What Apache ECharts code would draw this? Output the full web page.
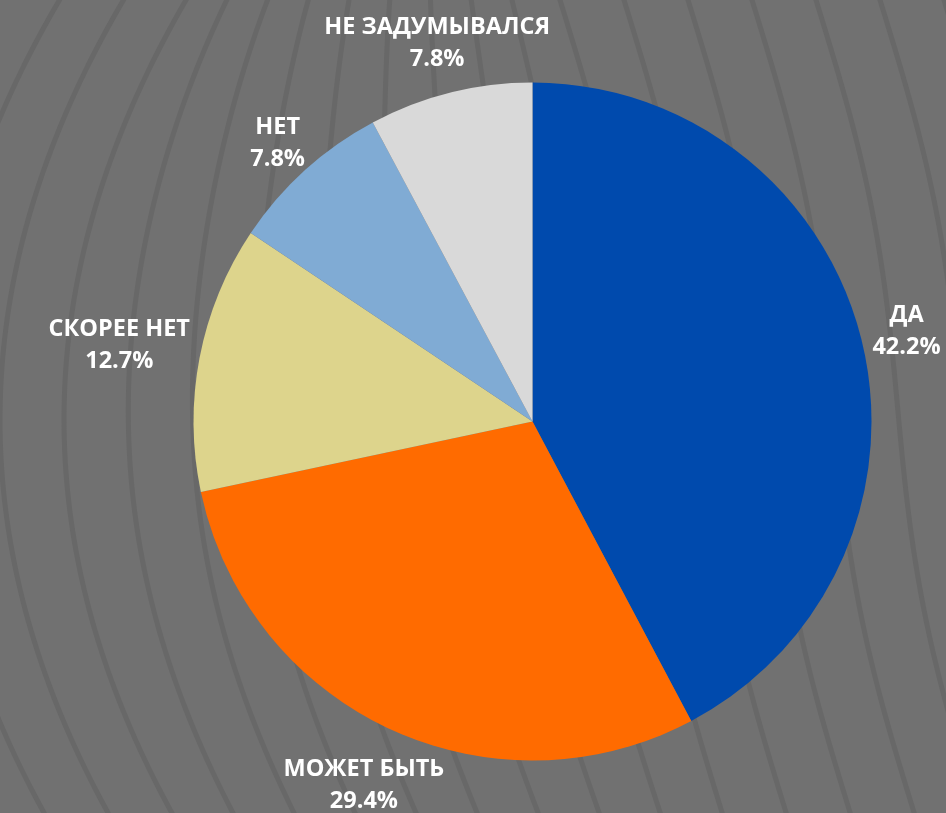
<!DOCTYPE html>
<html>
<head>
<meta charset="utf-8">
<script src="https://cdn.jsdelivr.net/npm/echarts@6/dist/echarts.min.js"></script>
<style>
html,body{margin:0;padding:0;background:#717171;}
#chart{width:946px;height:813px;}
</style>
</head>
<body>
<div id="chart"></div>
<script>
// Data
const categories = ['ДА', 'МОЖЕТ БЫТЬ', 'СКОРЕЕ НЕТ', 'НЕТ', 'НЕ ЗАДУМЫВАЛСЯ'];
const values = [42.2, 29.4, 12.7, 7.8, 7.8];
const colors = ['#004aad', '#ff6b00', '#ddd48c', '#80abd4', '#d9d9d9'];

// Decorative wavy background lines
function bgLines() {
  const els = [];
  for (let base = -320; base <= 1040; base += 64) {
    const t = Math.max(0, Math.min(1, (620 - base) / 560));
    const pts = [];
    for (let y = -30; y <= 850; y += 20) {
      const x = base + t * 0.0007 * (y - 420) * (y - 420) + (1 - t) * (0.2 * (y - 400) + 14 * Math.sin(y / 130));
      pts.push([x, y]);
    }
    els.push({
      type: 'polyline', silent: true, z: -10,
      shape: { points: pts, smooth: 0.3 },
      style: { stroke: '#686868', lineWidth: 5, fill: null }
    });
  }
  return els;
}

const chart = echarts.init(document.getElementById('chart'), null, { renderer: 'canvas' });
chart.setOption({
  backgroundColor: '#717171',
  animation: false,
  graphic: bgLines(),
  series: [{
    type: 'pie',
    center: [532.5, 421.5],
    radius: 339,
    startAngle: 90,
    clockwise: true,
    avoidLabelOverlap: false,
    itemStyle: { borderWidth: 0 },
    label: {
      show: true,
      position: 'outside',
      formatter: '{b}\n{c}%',
      color: '#ffffff',
      fontFamily: 'Open Sans',
      fontWeight: 'bold',
      fontSize: 23.5,
      lineHeight: 32,
      distanceToLabelLine: 0
    },
    labelLine: { show: true, length: 9, length2: 0, lineStyle: { opacity: 0, width: 0 } },
    labelLayout: function (p) {
      const r = p.labelRect;
      const pts = p.labelLinePoints;
      if (!pts) {
        return { x: r.x + r.width / 2, y: r.y + r.height / 2, align: 'center', verticalAlign: 'middle' };
      }
      const dx = pts[1][0] - pts[0][0], dy = pts[1][1] - pts[0][1];
      const L = Math.hypot(dx, dy) || 1;
      const ux = dx / L, uy = dy / L;
      const off = Math.abs(ux) * r.width / 2 + Math.abs(uy) * r.height * 0.28;
      return { x: pts[1][0] + ux * off, y: pts[1][1] + uy * off + 3, align: 'center', verticalAlign: 'middle' };
    },
    data: categories.map((c, i) => ({ name: c, value: values[i], itemStyle: { color: colors[i] } }))
  }]
});
</script>
</body>
</html>
